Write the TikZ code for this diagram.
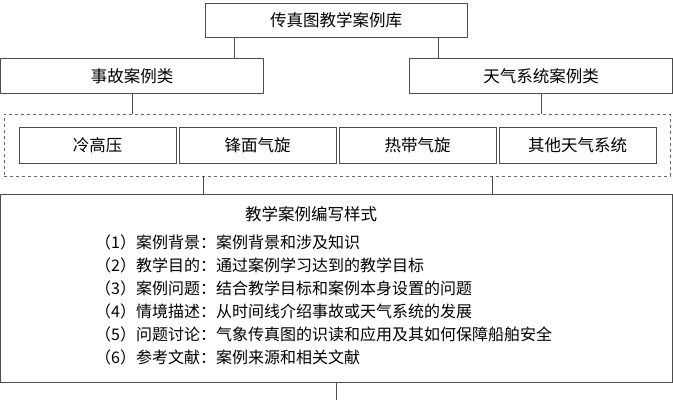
\documentclass[tikz,border=0pt]{standalone}
\usepackage{fontspec}
\setmainfont{Noto Sans CJK SC}
\begin{document}
\begin{tikzpicture}[x=1pt,y=-1pt,
  bx/.style={draw=black!70,line width=0.8pt,inner sep=0pt,font=\fontsize{16.5}{18}\selectfont},
  ln/.style={draw=black!70,line width=0.8pt}]
\useasboundingbox (0,0) rectangle (673,400);
\node[bx,minimum width=262pt,minimum height=34pt] (top) at (336,20) {传真图教学案例库};
\node[bx,minimum width=263pt,minimum height=35pt] (acc) at (132,76) {事故案例类};
\node[bx,minimum width=263pt,minimum height=35pt] (wea) at (541,76) {天气系统案例类};
\node[draw=black!60,dashed,line width=0.6pt,minimum width=666pt,minimum height=62pt,inner sep=0pt] (grp) at (337,145) {};
\node[bx,minimum width=157pt,minimum height=36pt] (c1) at (97.5,145) {冷高压};
\node[bx,minimum width=157pt,minimum height=36pt] (c2) at (257.5,145) {锋面气旋};
\node[bx,minimum width=157pt,minimum height=36pt] (c3) at (417.5,145) {热带气旋};
\node[bx,minimum width=157pt,minimum height=36pt] (c4) at (577.5,145) {其他天气系统};
\node[bx,minimum width=672pt,minimum height=188pt] (fmt) at (336.5,288) {};
\node[font=\fontsize{16.5}{18}\selectfont] (t) at (311,214) {教学案例编写样式};
\begin{scope}[every node/.style={anchor=west,inner sep=0pt,font=\fontsize{16}{18}\selectfont}]
\node (l1) at (95,242) {（1）案例背景：案例背景和涉及知识};
\node (l2) at (95,265) {（2）教学目的：通过案例学习达到的教学目标};
\node (l3) at (95,288) {（3）案例问题：结合教学目标和案例本身设置的问题};
\node (l4) at (95,311) {（4）情境描述：从时间线介绍事故或天气系统的发展};
\node (l5) at (95,334) {（5）问题讨论：气象传真图的识读和应用及其如何保障船舶安全};
\node (l6) at (95,357) {（6）参考文献：案例来源和相关文献};
\end{scope}
\coordinate (e) at (336,400);
\draw[ln] (top.south -| 234,0) -- (acc.north -| 234,0);
\draw[ln] (top.south -| 438,0) -- (wea.north -| 438,0);
\draw[ln] (acc.south) -- (grp.north -| acc.south);
\draw[ln] (wea.south) -- (grp.north -| wea.south);
\draw[ln] (grp.south -| 203,0) -- (fmt.north -| 203,0);
\draw[ln] (grp.south -| 492,0) -- (fmt.north -| 492,0);
\draw[ln] (fmt.south -| e) -- (e);
\end{tikzpicture}
\end{document}
